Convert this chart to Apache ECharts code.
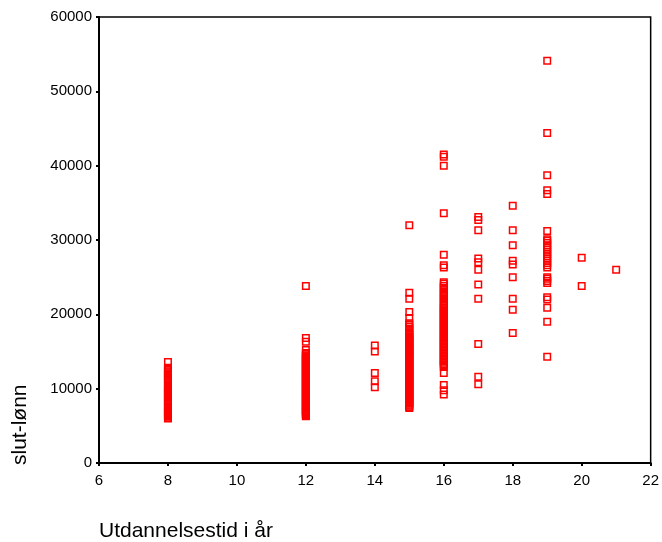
<!DOCTYPE html>
<html>
<head>
<meta charset="utf-8">
<script src="https://cdn.jsdelivr.net/npm/echarts@6/dist/echarts.min.js"></script>
<style>
  html, body { margin: 0; padding: 0; background: #fff; }
  #chart { width: 662px; height: 542px; }
</style>
</head>
<body>
<div id="chart"></div>
<script>
'use strict';

// slut-lønn per utdanningslengde (år)
var sal8 = [13600, 12800, 12650, 12500, 12350, 12200, 12050, 11900, 11750, 11600, 11450, 11300, 11150, 11000, 10750, 10450, 10300, 10150, 10000, 9850, 9700, 9550, 9400, 9250, 9100, 8950, 8800, 8650, 8500, 8350, 8200, 8050, 7900, 7600, 7450, 7300, 7150, 7000, 6850, 6700, 6550, 6400, 6250, 6100, 6000];
var sal12 = [23800, 16800, 16300, 15200, 14800, 14650, 14500, 14350, 14200, 14050, 13900, 13750, 13600, 13450, 13300, 13150, 13000, 12850, 12700, 12550, 12400, 12250, 12100, 11950, 11800, 11650, 11500, 11350, 11200, 11050, 10900, 10750, 10600, 10450, 10300, 10150, 10000, 9850, 9700, 9550, 9400, 9250, 9100, 8950, 8800, 8650, 8500, 8350, 8200, 8050, 7900, 7750, 7600, 7450, 7300, 7150, 7000, 6850, 6700, 6550, 6400, 6300];
var sal14 = [15800, 15000, 12100, 11000, 10200];
var sal15 = [32000, 22900, 22100, 20300, 19500, 18800, 18600, 18350, 18100, 17850, 17600, 17400, 17200, 17000, 16850, 16700, 16550, 16400, 16250, 16100, 15950, 15800, 15650, 15500, 15350, 15200, 15050, 14900, 14750, 14600, 14450, 14300, 14150, 14000, 13850, 13700, 13550, 13400, 13250, 13100, 12950, 12800, 12650, 12500, 12350, 12200, 12050, 11900, 11750, 11600, 11450, 11300, 11150, 11000, 10850, 10700, 10550, 10400, 10250, 10100, 9950, 9800, 9650, 9500, 9350, 9200, 9050, 8900, 8750, 8600, 8450, 8300, 8150, 8000, 7850, 7700, 7550, 7400];
var sal16 = [41500, 41200, 40000, 33600, 28000, 26600, 26300, 24300, 24100, 23800, 23550, 23300, 23050, 22800, 22550, 22300, 22050, 21800, 21550, 21300, 21100, 20900, 20700, 20500, 20300, 20100, 19900, 19700, 19500, 19300, 19100, 18900, 18700, 18500, 18300, 18100, 17900, 17700, 17500, 17300, 17100, 16900, 16700, 16500, 16300, 16100, 15900, 15700, 15500, 15300, 15100, 14900, 14700, 14500, 14300, 14100, 13900, 13700, 13500, 13300, 13100, 12900, 12100, 10500, 9800, 9200];
var sal17 = [33100, 32700, 31300, 27500, 27000, 26000, 24000, 22100, 16000, 11600, 10600];
var sal18 = [34600, 31300, 29300, 27200, 26700, 25000, 22100, 20600, 17500];
var sal19 = [54100, 44400, 38700, 36700, 36200, 31200, 30100, 29900, 29600, 29300, 29000, 28700, 28400, 28100, 27800, 27500, 27200, 26900, 26600, 26300, 25000, 24800, 24500, 24200, 22300, 22000, 20900, 19000, 14300];
var sal20 = [27600, 23800];
var sal21 = [26000];

var years = [8, 12, 14, 15, 16, 17, 18, 19, 20, 21];
var groups = [sal8, sal12, sal14, sal15, sal16, sal17, sal18, sal19, sal20, sal21];

var points = [];
for (var i = 0; i < years.length; i++) {
  for (var j = 0; j < groups[i].length; j++) {
    points.push([years[i], groups[i][j]]);
  }
}

var font = 'Liberation Sans, Arial, sans-serif';

var chart = echarts.init(document.getElementById('chart'));
var option = {
  animation: false,
  grid: {
    left: 99,
    right: 10,
    top: 17,
    bottom: 79,
    show: true,
    borderColor: '#000',
    borderWidth: 1.5
  },
  xAxis: {
    type: 'value',
    min: 6,
    max: 22,
    interval: 2,
    splitLine: { show: false },
    axisLine: { onZero: false, lineStyle: { color: '#000', width: 2 } },
    axisTick: { length: 3, lineStyle: { color: '#000', width: 2 } },
    axisLabel: { color: '#000', fontSize: 15, fontFamily: font, margin: 10 }
  },
  yAxis: {
    type: 'value',
    min: 0,
    max: 60000,
    interval: 10000,
    splitLine: { show: false },
    axisLine: { onZero: false, lineStyle: { color: '#000', width: 2 } },
    axisTick: { length: 3, lineStyle: { color: '#000', width: 2 } },
    axisLabel: {
      color: '#000', fontSize: 15, fontFamily: font, margin: 7,
      formatter: function(v) { return String(v); }
    }
  },
  graphic: [
    {
      type: 'text',
      left: 99,
      top: 521,
      style: { text: 'Utdannelsestid i år', fontSize: 21, fontFamily: font, fill: '#000' }
    },
    {
      type: 'text',
      x: 10,
      y: 465,
      rotation: Math.PI / 2,
      style: { text: 'slut-lønn', fontSize: 21, fontFamily: font, fill: '#000', textVerticalAlign: 'top' }
    }
  ],
  series: [
    {
      type: 'scatter',
      symbol: 'rect',
      symbolSize: 6.5,
      data: points,
      itemStyle: { color: 'rgba(255,255,255,0)', borderColor: '#ff0000', borderWidth: 1.5, opacity: 1 }
    }
  ]
};

chart.setOption(option);
window.onresize = chart.resize;
</script>
</body>
</html>
